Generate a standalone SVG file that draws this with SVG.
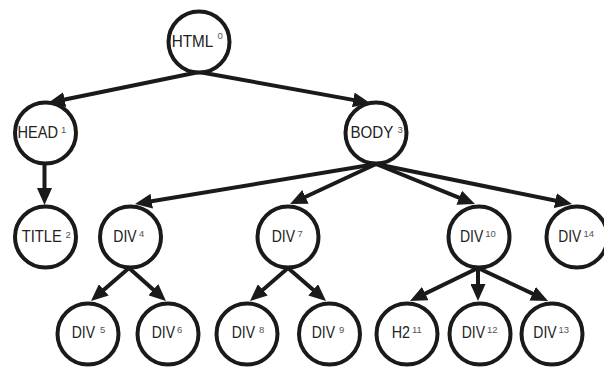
<svg xmlns="http://www.w3.org/2000/svg" width="604" height="368" viewBox="0 0 604 368">
<defs>
<style>
.n{fill:#fff;stroke:#1a1a1a;stroke-width:4}
.e{stroke:#1a1a1a;stroke-width:4;fill:none;marker-end:url(#ah)}
.t{font-family:"Liberation Sans",Arial,sans-serif;font-size:16px;fill:#222}
.s{font-family:"Liberation Sans",Arial,sans-serif;font-size:9.5px;fill:#555}
</style>
<marker id="ah" markerUnits="userSpaceOnUse" markerWidth="17" markerHeight="15" refX="11" refY="7.5" orient="auto">
<path d="M0,0 L17,7.5 L0,15 Z" fill="#1a1a1a"/>
</marker>
</defs>
<rect width="604" height="368" fill="#fff"/>
<g id="connectors">
<line class="e" x1="199" y1="72" x2="53.9" y2="101.8"/>
<line class="e" x1="199" y1="72" x2="364.1" y2="101.9"/>
<line class="e" x1="44.5" y1="164" x2="44.5" y2="199"/>
<line class="e" x1="376" y1="164" x2="140.9" y2="203"/>
<line class="e" x1="376" y1="164" x2="295.5" y2="201.5"/>
<line class="e" x1="376" y1="164" x2="469.4" y2="201.8"/>
<line class="e" x1="376" y1="164" x2="566.1" y2="202.8"/>
<line class="e" x1="129" y1="268" x2="95.5" y2="297.1"/>
<line class="e" x1="129" y1="268" x2="161.5" y2="297"/>
<line class="e" x1="288" y1="268" x2="254.5" y2="297.1"/>
<line class="e" x1="288" y1="268" x2="321.5" y2="297.1"/>
<line class="e" x1="478" y1="268" x2="415.4" y2="298.4"/>
<line class="e" x1="478" y1="268" x2="478" y2="295"/>
<line class="e" x1="478" y1="268" x2="542.6" y2="298.4"/>
</g>
<g id="n0"><circle class="n" cx="199" cy="42" r="30.5"/><text class="t" x="171.7" y="46.5" textLength="41.6" lengthAdjust="spacingAndGlyphs">HTML</text><text class="s" x="217.5" y="38.5">0</text></g>
<g id="n1"><circle class="n" cx="45.5" cy="133" r="30.5"/><text class="t" x="17.5" y="138.3" textLength="40.5" lengthAdjust="spacingAndGlyphs">HEAD</text><text class="s" x="61" y="133.3">1</text></g>
<g id="n3"><circle class="n" cx="376" cy="133" r="30.5"/><text class="t" x="350.5" y="138.3" textLength="42.8" lengthAdjust="spacingAndGlyphs">BODY</text><text class="s" x="397.5" y="133.3">3</text></g>
<g id="n2"><circle class="n" cx="45.5" cy="237" r="30.5"/><text class="t" x="21.7" y="242" textLength="40" lengthAdjust="spacingAndGlyphs">TITLE</text><text class="s" x="65.5" y="238">2</text></g>
<g id="n4"><circle class="n" cx="130.5" cy="237" r="30.5"/><text class="t" x="113.3" y="242" textLength="23.3" lengthAdjust="spacingAndGlyphs">DIV</text><text class="s" x="139" y="237">4</text></g>
<g id="n7"><circle class="n" cx="288" cy="237" r="30.5"/><text class="t" x="271.7" y="242" textLength="23.3" lengthAdjust="spacingAndGlyphs">DIV</text><text class="s" x="297.5" y="237">7</text></g>
<g id="n10"><circle class="n" cx="479" cy="237" r="30.5"/><text class="t" x="460" y="242" textLength="23.3" lengthAdjust="spacingAndGlyphs">DIV</text><text class="s" x="485.2" y="237">10</text></g>
<g id="n14"><circle class="n" cx="577" cy="237" r="30.5"/><text class="t" x="558.3" y="242" textLength="23" lengthAdjust="spacingAndGlyphs">DIV</text><text class="s" x="583.5" y="237">14</text></g>
<g id="n5"><circle class="n" cx="88" cy="334" r="30.5"/><text class="t" x="71.7" y="337.5" textLength="23.3" lengthAdjust="spacingAndGlyphs">DIV</text><text class="s" x="100" y="332.5">5</text></g>
<g id="n6"><circle class="n" cx="168" cy="334" r="30.5"/><text class="t" x="151.7" y="337.5" textLength="23.3" lengthAdjust="spacingAndGlyphs">DIV</text><text class="s" x="177" y="332.5">6</text></g>
<g id="n8"><circle class="n" cx="247" cy="334" r="30.5"/><text class="t" x="231.7" y="337.5" textLength="23.3" lengthAdjust="spacingAndGlyphs">DIV</text><text class="s" x="259" y="332.5">8</text></g>
<g id="n9"><circle class="n" cx="329.5" cy="334" r="30.5"/><text class="t" x="311.7" y="337.5" textLength="23.3" lengthAdjust="spacingAndGlyphs">DIV</text><text class="s" x="339" y="332.5">9</text></g>
<g id="n11"><circle class="n" cx="407" cy="334" r="30.5"/><text class="t" x="391.7" y="337.5" textLength="18.3" lengthAdjust="spacingAndGlyphs">H2</text><text class="s" x="412" y="332.5">11</text></g>
<g id="n12"><circle class="n" cx="480" cy="334" r="30.5"/><text class="t" x="461.7" y="337.5" textLength="23.3" lengthAdjust="spacingAndGlyphs">DIV</text><text class="s" x="487" y="332.5">12</text></g>
<g id="n13"><circle class="n" cx="552" cy="334" r="30.5"/><text class="t" x="533.3" y="337.5" textLength="23.3" lengthAdjust="spacingAndGlyphs">DIV</text><text class="s" x="558.5" y="332.5">13</text></g>
</svg>
